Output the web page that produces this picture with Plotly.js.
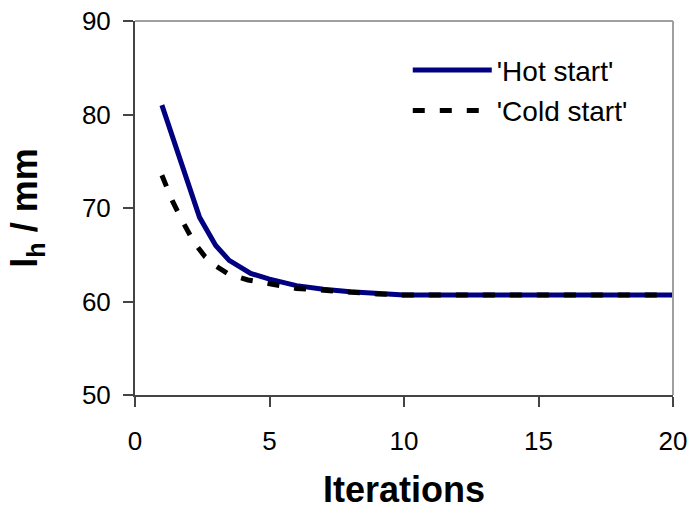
<!DOCTYPE html>
<html>
<head>
<meta charset="utf-8">
<script src="https://cdn.plot.ly/plotly-3.0.1.min.js"></script>
<style>html,body{margin:0;padding:0;background:#fff;}#chart{width:694px;height:521px;}</style>
</head>
<body>
<div id="chart"></div>
<script>
var hotX  = [1, 1.4, 2.4, 3.0, 3.5, 4.3, 5, 6, 7, 8, 9, 10, 11, 12, 13, 14, 15, 16, 17, 18, 19, 20];
var hotY  = [81.0, 77.5, 69.0, 66.0, 64.4, 63.0, 62.4, 61.7, 61.3, 61.05, 60.85, 60.7, 60.7, 60.7, 60.7, 60.7, 60.7, 60.7, 60.7, 60.7, 60.7, 60.7];
var coldX = [1, 1.4, 1.8, 2.2, 2.6, 3.0, 3.5, 4.2, 5, 6, 7, 8, 9, 10, 11, 12, 13, 14, 15, 16, 17, 18, 19, 20];
var coldY = [73.5, 70.7, 68.4, 66.3, 64.8, 63.8, 62.9, 62.3, 61.9, 61.4, 61.2, 60.95, 60.8, 60.7, 60.7, 60.7, 60.7, 60.7, 60.7, 60.7, 60.7, 60.7, 60.7, 60.7];
var seriesNames = ["'Hot start'", "'Cold start'"];
var xTicks = [0, 5, 10, 15, 20];
var yTicks = [50, 60, 70, 80, 90];

var font = "Liberation Sans, Arial, sans-serif";

var traces = [
  {x: hotX, y: hotY, name: seriesNames[0], type: 'scatter', mode: 'lines', legendgroup: 'a',
   line: {color: '#000080', width: 5}},
  {x: coldX, y: coldY, name: seriesNames[1], type: 'scatter', mode: 'lines', legendgroup: 'b',
   line: {color: '#000000', width: 5, dash: '12px,15px'}}
];

var layout = {
  width: 694, height: 521,
  margin: {l: 135, r: 21, t: 21, b: 126},
  paper_bgcolor: '#fff', plot_bgcolor: '#fff',
  font: {family: font, color: '#000', size: 26},
  showlegend: true,
  legend: {x: 0.507, y: 0.935, xanchor: 'left', yanchor: 'top', bgcolor: 'rgba(0,0,0,0)',
           font: {family: font, size: 28, color: '#000'}, itemwidth: 79,
           traceorder: 'grouped', tracegroupgap: 1},
  xaxis: {range: [0, 20], tickvals: xTicks, ticktext: xTicks.map(String), showgrid: false, zeroline: false,
          showline: true, linecolor: '#444', linewidth: 2, ticks: 'outside', ticklen: 10, tickwidth: 2, tickcolor: '#444',
          ticklabelstandoff: 12, tickfont: {family: font, size: 26},
          title: {text: 'Iterations', font: {family: font, size: 36, weight: 'bold'}, standoff: 22}},
  yaxis: {range: [50, 90], tickvals: yTicks, ticktext: yTicks.map(String), showgrid: false, zeroline: false,
          showline: true, linecolor: '#444', linewidth: 2, ticks: 'outside', ticklen: 10, tickwidth: 2, tickcolor: '#444',
          ticklabelstandoff: 7, tickfont: {family: font, size: 26},
          title: {text: 'l<sub>h</sub> / mm', font: {family: font, size: 36, weight: 'bold'}, standoff: 33}},
  shapes: [
    {type: 'line', xref: 'paper', yref: 'paper', x0: 0, x1: 1, y0: 1, y1: 1, line: {color: '#a0a0a0', width: 2}},
    {type: 'line', xref: 'paper', yref: 'paper', x0: 1, x1: 1, y0: 0, y1: 1, line: {color: '#a0a0a0', width: 2}}
  ]
};

Plotly.newPlot('chart', traces, layout, {displayModeBar: false, staticPlot: true});
</script>
</body>
</html>
